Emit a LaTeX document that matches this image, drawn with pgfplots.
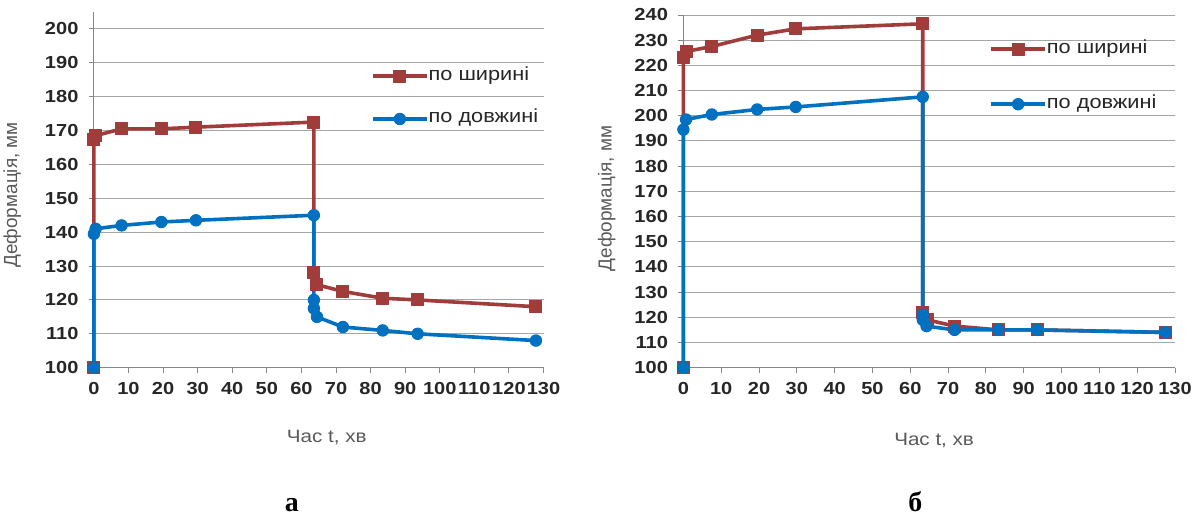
\documentclass[border=0pt]{standalone}
\usepackage{fontspec}
\setmainfont{Liberation Sans}
\newfontfamily\serifb{Liberation Serif}
\usepackage{graphicx}
\usepackage{pgfplots}
\pgfplotsset{compat=1.18}
\definecolor{myred}{HTML}{A03C3A}
\definecolor{myblue}{HTML}{0070C0}
\definecolor{gridc}{HTML}{A6A6A6}
\definecolor{axisc}{HTML}{868686}
\definecolor{labc}{HTML}{595959}
\definecolor{tickc}{HTML}{262626}
\newcommand{\wide}[1]{\scalebox{1.15}[1]{#1}}
\pgfplotsset{
  chartstyle/.style={
    scale only axis,
    axis x line*=bottom, axis y line*=left,
    axis line style={axisc, line width=0.9bp},
    ymajorgrids, grid style={gridc, line width=0.9bp},
    tick align=outside, major tick length=5bp,
    tick style={axisc, line width=0.9bp},
    /pgf/number format/assume math mode=true,
    ticklabel style={font=\bfseries\fontsize{17.5}{17.5}\selectfont, text=tickc},
    xticklabel={\wide{\pgfmathprintnumber{\tick}}},
    yticklabel={\wide{\pgfmathprintnumber{\tick}}},
    yticklabel style={xshift=-7bp},
    xticklabel style={yshift=-6bp},
    xmin=0, xmax=130, xtick={0,10,...,130},
    clip=false,
    legend style={draw=none, fill=none, inner sep=0pt,
      font=\fontsize{19}{19}\selectfont, text=tickc,
      nodes={inner sep=0pt, text height=12bp, text depth=4bp},
      /tikz/every even column/.append style={column sep=4bp}},
    legend cell align=left,
    legend image code/.code={\draw[mark repeat=2,mark phase=2] plot coordinates {(0bp,0bp) (27bp,0bp) (54bp,0bp)};},
  },
  redser/.style={myred, line width=3.6bp, line join=round, mark=square*, mark size=6bp, mark options={solid, fill=myred, line width=1bp}},
  blueser/.style={myblue, line width=3.6bp, line join=round, mark=*, mark size=5.7bp, mark options={solid, fill=myblue, line width=1bp}},
}
\begin{document}
\begin{tikzpicture}
\path (0,0) rectangle (1195bp,516bp);
% ---- left chart (a)
\begin{axis}[chartstyle,
  at={(93bp,148bp)}, anchor=south west,
  width=450bp, height=356bp,
  ymin=100, ymax=205, ytick={100,110,...,200},
  xlabel={\wide{Час t, хв}}, ylabel={Деформація, мм},
  every axis x label/.style={at={(axis description cs:0.518,-0.21)}, anchor=base, font=\fontsize{18}{18}\selectfont, text=labc},
  every axis y label/.style={at={(axis description cs:-0.171,0.486)}, rotate=90, anchor=base, font=\fontsize{19}{19}\selectfont, text=labc},
  legend style={at={(0.616,0.843)}, anchor=north west, row sep=27bp},
]
\addplot[redser] coordinates {(0,100) (0,167.5) (0.5,168.5) (8,170.5) (19.5,170.5) (29.5,171) (63.6,172.5) (63.6,128) (64.5,124.5) (72,122.5) (83.5,120.5) (93.6,120) (127.8,118)};
\addlegendentry{\wide{по ширині}}
\addplot[blueser] coordinates {(0,100) (0,139.5) (0.5,141) (8,142) (19.5,143) (29.5,143.5) (63.6,145) (63.6,120) (63.6,117.5) (64.5,115) (72,112) (83.5,111) (93.6,110) (127.8,108)};
\addlegendentry{\wide{по довжині}}
\node[font=\serifb\bfseries\fontsize{28}{28}\selectfont, anchor=base] at (rel axis cs:0.44,-0.404) {а};
\end{axis}
% ---- right chart (b)
\begin{axis}[chartstyle,
  at={(683bp,148bp)}, anchor=south west,
  width=492bp, height=353bp,
  ymin=100, ymax=240, ytick={100,110,...,240},
  xlabel={\wide{Час t, хв}}, ylabel={Деформація, мм},
  every axis x label/.style={at={(axis description cs:0.51,-0.221)}, anchor=base, font=\fontsize{18}{18}\selectfont, text=labc},
  every axis y label/.style={at={(axis description cs:-0.146,0.48)}, rotate=90, anchor=base, font=\fontsize{19}{19}\selectfont, text=labc},
  legend style={at={(0.622,0.926)}, anchor=north west, row sep=39bp},
]
\addplot[redser] coordinates {(0,100) (0,223) (0.7,225.5) (7.5,227.5) (19.5,232) (29.7,234.5) (63.3,236.5) (63.3,122) (64.5,119) (71.7,116.5) (83.3,115) (93.6,115) (127.5,114)};
\addlegendentry{\wide{по ширині}}
\addplot[blueser] coordinates {(0,100) (0,194.5) (0.7,198.5) (7.5,200.5) (19.5,202.5) (29.7,203.5) (63.3,207.5) (63.3,121) (63.3,119) (64.3,116.5) (71.7,115) (83.3,115) (93.6,115) (127.5,114)};
\addlegendentry{\wide{по довжині}}
\node[font=\serifb\bfseries\fontsize{28}{28}\selectfont, anchor=base] at (rel axis cs:0.472,-0.408) {б};
\end{axis}
\end{tikzpicture}
\end{document}
